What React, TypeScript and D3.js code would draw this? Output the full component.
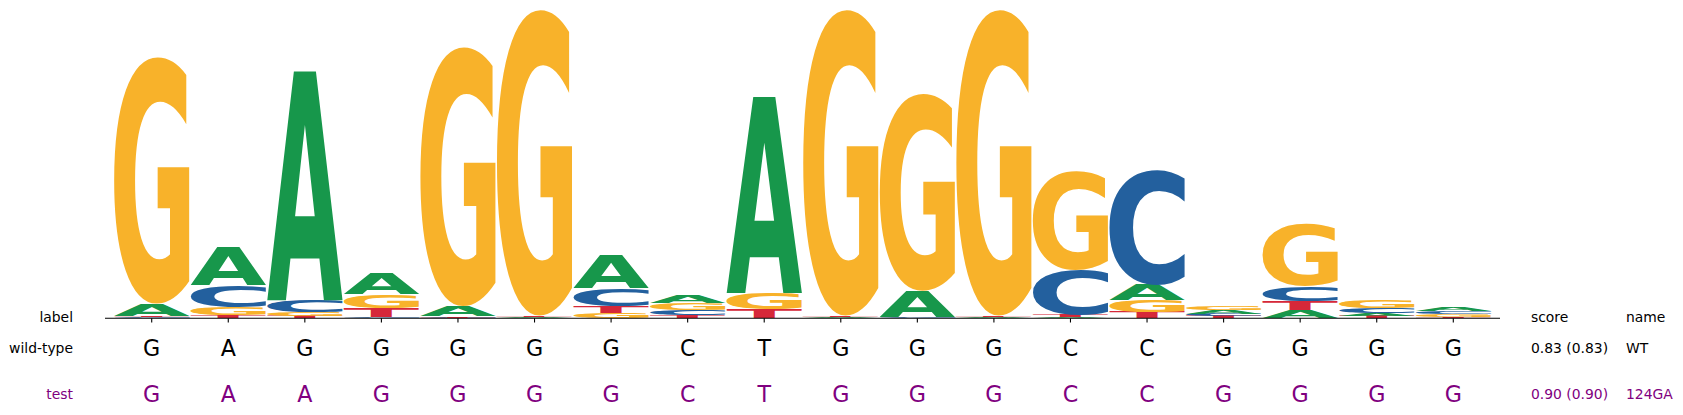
import * as d3 from "d3";
import { useMemo } from "react";

// information content (bits) per position
const positions = d3.range(18);
const bitsA = [0.077, 0.239, 1.479, 0.132, 0.065, 0.006, 0.213, 0.052, 1.266, 0.006, 0.168, 0.006, 0.006, 0.097, 0.023, 0.052, 0.019, 0.026];
const bitsC = [0.006, 0.142, 0.077, 0.006, 0.005, 0.003, 0.116, 0.032, 0.003, 0.003, 0.006, 0.003, 0.284, 0.744, 0.016, 0.097, 0.032, 0.019];
const bitsG = [1.591, 0.052, 0.026, 0.09, 1.671, 1.973, 0.032, 0.045, 0.103, 1.973, 1.27, 1.973, 0.637, 0.077, 0.029, 0.401, 0.05, 0.016];
const bitsT = [0.01, 0.019, 0.013, 0.058, 0.007, 0.007, 0.045, 0.019, 0.058, 0.007, 0.003, 0.007, 0.019, 0.039, 0.013, 0.058, 0.016, 0.01];

const wildType = "GAGGGGGCTGGGCCGGGG".split("");
const testSeq = "GAAGGGGCTGGGCCGGGG".split("");
const rowLabels = ["wild-type", "test"];
const scores = ["0.83 (0.83)", "0.90 (0.90)"];
const names = ["WT", "124GA"];

const baseColors: Record<string, string> = {
  A: "#17974b",
  C: "#23609e",
  G: "#f8b22a",
  T: "#d62839",
};

const FONT = "DejaVu Sans";
const REF = 400;

type Metric = { l: number; r: number; a: number; d: number };

// ink bounds of each glyph, found by drawing it and scanning the pixels
function measureGlyphs(): Record<string, Metric> {
  const size = 800;
  const ox = 200;
  const oy = 600;
  const canvas = document.createElement("canvas");
  canvas.width = size;
  canvas.height = size;
  const ctx = canvas.getContext("2d", { willReadFrequently: true })!;
  const out: Record<string, Metric> = {};
  for (const b of ["A", "C", "G", "T"]) {
    ctx.clearRect(0, 0, size, size);
    ctx.font = `bold ${REF}px "${FONT}"`;
    ctx.textBaseline = "alphabetic";
    ctx.fillStyle = "#000";
    ctx.fillText(b, ox, oy);
    const data = ctx.getImageData(0, 0, size, size).data;
    let x0 = size, x1 = -1, y0 = size, y1 = -1;
    for (let yy = 0; yy < size; yy++) {
      for (let xx = 0; xx < size; xx++) {
        if (data[(yy * size + xx) * 4 + 3] > 127) {
          if (xx < x0) x0 = xx;
          if (xx > x1) x1 = xx;
          if (yy < y0) y0 = yy;
          if (yy > y1) y1 = yy;
        }
      }
    }
    out[b] = { l: ox - x0, r: x1 + 1 - ox, a: oy - y0, d: y1 + 1 - oy };
  }
  return out;
}

export default function App() {
  const width = 1683;
  const height = 415;
  const metrics = useMemo(measureGlyphs, []);

  const x = d3.scaleLinear().domain([-0.61, 17.61]).range([105, 1500]);
  const y = d3.scaleLinear().domain([0, 2]).range([318.3, 8.3]);
  const step = x(1) - x(0);
  const glyphW = step * 0.98;

  const glyphs: { base: string; x0: number; y0: number; y1: number; key: string }[] = [];
  positions.forEach((i) => {
    const stack = [
      { base: "A", v: bitsA[i] },
      { base: "C", v: bitsC[i] },
      { base: "G", v: bitsG[i] },
      { base: "T", v: bitsT[i] },
    ].sort((p, q) => p.v - q.v);
    let acc = 0;
    stack.forEach((s) => {
      glyphs.push({
        base: s.base,
        x0: x(i) - glyphW / 2,
        y0: y(acc + s.v),
        y1: y(acc),
        key: `${i}-${s.base}`,
      });
      acc += s.v;
    });
  });

  const rowY = [348, 394];
  const rowColor = ["#000000", "#800080"];
  const seqs = [wildType, testSeq];
  const fs = 13.9;

  return (
    <svg
      width={width}
      height={height}
      style={{ position: "absolute", left: 0, top: 0, fontFamily: FONT }}
    >
      <rect width={width} height={height} fill="#ffffff" />
      {glyphs.map((g) => {
        const m = metrics[g.base];
        const w = m.l + m.r;
        const h = m.a + m.d;
        const H = g.y1 - g.y0;
        if (H <= 0 || w <= 0 || h <= 0) return null;
        return (
          <text
            key={g.key}
            transform={`translate(${g.x0},${g.y0}) scale(${glyphW / w},${H / h}) translate(${m.l},${m.a})`}
            fontSize={REF}
            fontWeight="bold"
            fill={baseColors[g.base]}
          >
            {g.base}
          </text>
        );
      })}
      <line x1={105} x2={1500} y1={318.3} y2={318.3} stroke="#000" strokeWidth={1.1} />
      {positions.map((i) => (
        <line key={i} x1={x(i)} x2={x(i)} y1={318.3} y2={322.5} stroke="#000" strokeWidth={1.1} />
      ))}
      <text x={73} y={317} textAnchor="end" dominantBaseline="central" fontSize={fs}>
        label
      </text>
      <text x={1531} y={317} dominantBaseline="central" fontSize={fs}>
        score
      </text>
      <text x={1626} y={317} dominantBaseline="central" fontSize={fs}>
        name
      </text>
      {rowLabels.map((lab, r) => (
        <g key={lab} fill={rowColor[r]}>
          <text x={73} y={rowY[r]} textAnchor="end" dominantBaseline="central" fontSize={fs}>
            {lab}
          </text>
          {seqs[r].map((c, i) => (
            <text
              key={i}
              x={x(i)}
              y={rowY[r]}
              textAnchor="middle"
              dominantBaseline="central"
              fontSize={22.2}
            >
              {c}
            </text>
          ))}
          <text x={1531} y={rowY[r]} dominantBaseline="central" fontSize={fs}>
            {scores[r]}
          </text>
          <text x={1626} y={rowY[r]} dominantBaseline="central" fontSize={fs}>
            {names[r]}
          </text>
        </g>
      ))}
    </svg>
  );
}
